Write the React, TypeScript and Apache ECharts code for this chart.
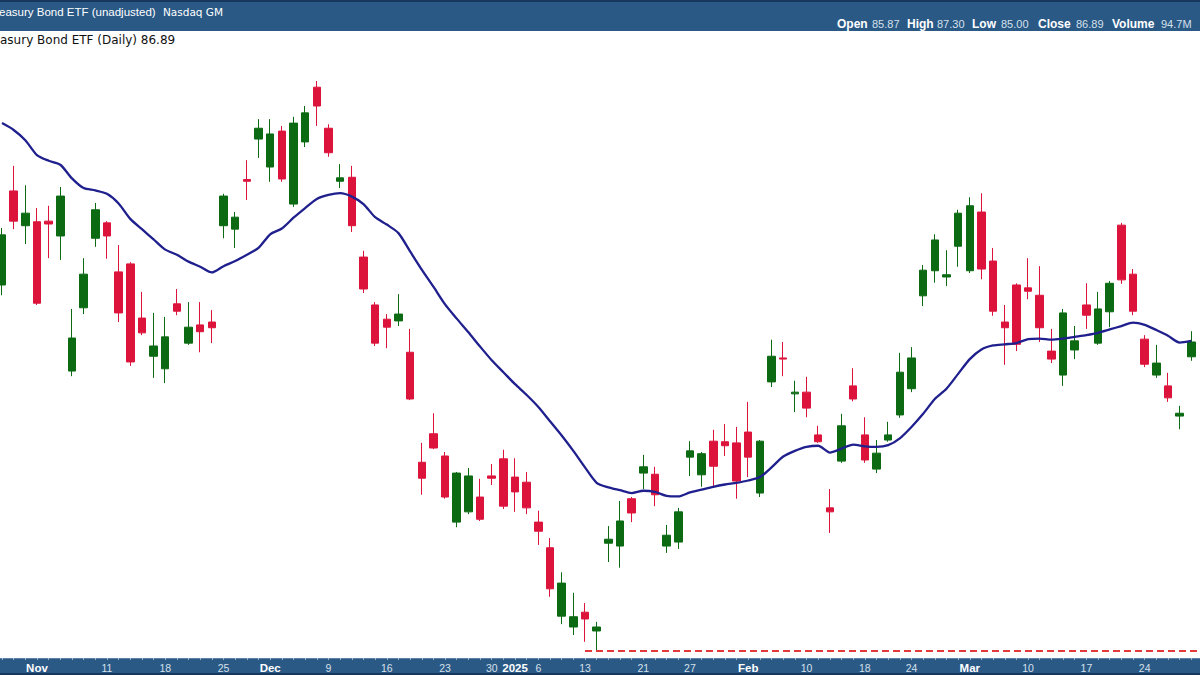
import React, { useEffect, useRef } from "react";
import * as echarts from "echarts";

// ---------- data ----------
const dates = [
  "2024-10-29", "2024-10-30", "2024-10-31",
  "2024-11-01", "2024-11-04", "2024-11-05", "2024-11-06", "2024-11-07", "2024-11-08",
  "2024-11-11", "2024-11-12", "2024-11-13", "2024-11-14", "2024-11-15",
  "2024-11-18", "2024-11-19", "2024-11-20", "2024-11-21", "2024-11-22",
  "2024-11-25", "2024-11-26", "2024-11-27", "2024-11-29",
  "2024-12-02", "2024-12-03", "2024-12-04", "2024-12-05", "2024-12-06",
  "2024-12-09", "2024-12-10", "2024-12-11", "2024-12-12", "2024-12-13",
  "2024-12-16", "2024-12-17", "2024-12-18", "2024-12-19", "2024-12-20",
  "2024-12-23", "2024-12-24", "2024-12-26", "2024-12-27",
  "2024-12-30", "2024-12-31",
  "2025-01-02", "2025-01-03",
  "2025-01-06", "2025-01-07", "2025-01-08", "2025-01-10",
  "2025-01-13", "2025-01-14", "2025-01-15", "2025-01-16", "2025-01-17",
  "2025-01-21", "2025-01-22", "2025-01-23", "2025-01-24",
  "2025-01-27", "2025-01-28", "2025-01-29", "2025-01-30", "2025-01-31",
  "2025-02-03", "2025-02-04", "2025-02-05", "2025-02-06", "2025-02-07",
  "2025-02-10", "2025-02-11", "2025-02-12", "2025-02-13", "2025-02-14",
  "2025-02-18", "2025-02-19", "2025-02-20", "2025-02-21",
  "2025-02-24", "2025-02-25", "2025-02-26", "2025-02-27", "2025-02-28",
  "2025-03-03", "2025-03-04", "2025-03-05", "2025-03-06", "2025-03-07",
  "2025-03-10", "2025-03-11", "2025-03-12", "2025-03-13", "2025-03-14",
  "2025-03-17", "2025-03-18", "2025-03-19", "2025-03-20", "2025-03-21",
  "2025-03-24", "2025-03-25", "2025-03-26", "2025-03-27", "2025-03-28",
  "2025-03-31",
];

const opens = [
  91.31, 92.96, 92.35, 92.42, 92.43, 92.17, 89.80, 90.91, 92.13, 92.40,
  91.54, 91.68, 90.73, 90.06, 89.84, 90.98, 90.29, 90.61, 90.66, 92.35,
  92.29, 93.16, 93.87, 93.38, 94.01, 92.73, 93.82, 94.78, 94.06, 93.13,
  93.20, 91.80, 90.96, 90.71, 90.68, 90.13, 88.20, 88.70, 88.31, 87.15,
  87.33, 87.59, 87.96, 88.26, 87.94, 87.85, 87.15, 86.70, 85.50, 85.31,
  85.57, 85.24, 86.78, 86.73, 87.56, 88.01, 87.99, 86.73, 86.80, 88.29,
  87.98, 88.57, 88.56, 88.54, 88.73, 87.66, 89.61, 90.03, 89.40, 89.43,
  88.68, 87.40, 88.22, 89.54, 88.68, 88.08, 88.59, 89.03, 89.49, 91.12,
  91.56, 91.45, 91.99, 91.56, 92.59, 91.73, 90.66, 91.31, 91.26, 91.13,
  90.15, 89.73, 90.17, 90.96, 90.29, 90.84, 92.36, 91.50, 90.36, 89.73,
  89.54, 89.01, 90.05,
];

const closes = [
  92.19, 92.43, 92.57, 90.99, 92.38, 92.87, 90.38, 91.50, 92.63, 92.17,
  90.82, 89.96, 90.47, 90.24, 90.40, 90.85, 90.57, 90.49, 90.56, 92.87,
  92.50, 93.13, 94.06, 93.96, 93.17, 94.15, 94.33, 94.45, 93.63, 93.19,
  92.35, 91.24, 90.29, 90.57, 90.80, 89.31, 87.92, 88.45, 87.59, 88.01,
  87.96, 87.20, 87.92, 87.43, 87.68, 87.40, 86.99, 85.98, 86.08, 85.49,
  85.45, 85.31, 86.85, 87.17, 87.31, 88.12, 87.63, 86.92, 87.33, 88.40,
  88.35, 88.13, 88.49, 87.87, 88.29, 88.57, 90.06, 90.01, 89.43, 89.15,
  88.56, 87.33, 88.84, 89.31, 88.24, 88.36, 88.68, 89.78, 90.03, 91.57,
  92.10, 91.49, 92.57, 92.70, 91.59, 90.85, 90.56, 90.27, 91.20, 90.56,
  90.01, 90.82, 90.33, 90.78, 90.89, 91.34, 91.40, 90.85, 89.92, 89.94,
  89.33, 89.06, 90.31,
];

const lows = [
  91.13, 92.29, 92.03, 90.96, 91.78, 91.75, 89.71, 90.80, 91.98, 91.77,
  90.66, 89.89, 90.43, 89.68, 89.59, 90.78, 90.26, 90.13, 90.29, 92.13,
  91.96, 92.80, 93.54, 93.12, 93.12, 92.68, 93.73, 94.10, 93.56, 93.01,
  92.24, 91.17, 90.24, 90.20, 90.59, 89.29, 87.63, 88.43, 87.56, 87.06,
  87.29, 87.17, 87.80, 87.38, 87.33, 87.29, 86.75, 85.84, 85.36, 85.17,
  85.05, 84.89, 86.45, 86.35, 87.15, 87.73, 87.43, 86.61, 86.68, 87.96,
  87.77, 87.78, 88.31, 87.56, 87.94, 87.59, 89.52, 89.71, 89.08, 88.99,
  88.54, 86.96, 88.19, 89.27, 88.19, 88.01, 88.56, 88.98, 89.43, 90.94,
  91.35, 91.29, 91.63, 91.52, 91.41, 90.77, 89.91, 90.15, 91.06, 90.31,
  89.94, 89.54, 90.01, 90.54, 90.26, 90.57, 91.33, 90.78, 89.87, 89.68,
  89.26, 88.78, 89.98,
];

const highs = [
  92.31, 93.40, 93.06, 92.66, 92.70, 93.03, 90.89, 91.78, 92.75, 92.43,
  92.01, 91.71, 91.19, 90.82, 90.75, 91.24, 91.01, 91.01, 90.87, 92.91,
  92.59, 93.50, 94.22, 94.22, 94.10, 94.26, 94.45, 94.89, 94.13, 93.43,
  93.40, 91.91, 91.01, 90.80, 91.15, 90.54, 88.54, 89.06, 88.38, 88.03,
  88.10, 87.91, 88.17, 88.42, 88.27, 88.03, 87.35, 86.87, 86.27, 85.91,
  85.73, 85.40, 87.08, 87.52, 87.59, 88.33, 88.12, 87.10, 87.40, 88.57,
  88.38, 88.77, 88.87, 88.82, 89.26, 88.59, 90.35, 90.31, 89.63, 89.70,
  88.84, 87.73, 89.05, 89.85, 88.99, 88.59, 88.91, 90.12, 90.22, 91.66,
  92.20, 91.92, 92.63, 92.85, 92.92, 91.96, 90.96, 91.34, 91.78, 91.64,
  90.54, 90.89, 90.59, 91.34, 91.19, 91.38, 92.40, 91.59, 90.43, 90.26,
  89.77, 89.19, 90.50,
];

const movingAverage = [
  94.15, 94.03, 93.85, 93.59, 93.49, 93.42, 93.18, 93.01, 92.97, 92.91,
  92.74, 92.47, 92.29, 92.11, 91.93, 91.84, 91.72, 91.63, 91.53, 91.64,
  91.73, 91.84, 91.96, 92.20, 92.30, 92.49, 92.66, 92.82, 92.89, 92.92,
  92.86, 92.73, 92.50, 92.37, 92.22, 91.90, 91.58, 91.28, 90.97, 90.72,
  90.48, 90.23, 89.99, 89.78, 89.57, 89.38, 89.17, 88.92, 88.67, 88.40,
  88.11, 87.84, 87.76, 87.71, 87.66, 87.70, 87.68, 87.61, 87.60, 87.67,
  87.72, 87.77, 87.81, 87.84, 87.88, 87.94, 88.11, 88.30, 88.40, 88.47,
  88.49, 88.37, 88.44, 88.51, 88.48, 88.47, 88.50, 88.62, 88.82, 89.05,
  89.31, 89.49, 89.75, 90.01, 90.18, 90.25, 90.27, 90.29, 90.36, 90.37,
  90.35, 90.37, 90.40, 90.43, 90.47, 90.53, 90.59, 90.65, 90.61, 90.52,
  90.42, 90.30, 90.33,
];

const supportLevel = 84.89;
const supportStartDate = "2025-01-13";

const tickLabels: Record<string, string> = {
  "2024-11-01": "Nov",
  "2024-11-11": "11",
  "2024-11-18": "18",
  "2024-11-25": "25",
  "2024-12-02": "Dec",
  "2024-12-09": "9",
  "2024-12-16": "16",
  "2024-12-23": "23",
  "2024-12-30": "30",
  "2025-01-02": "2025",
  "2025-01-06": "6",
  "2025-01-13": "13",
  "2025-01-21": "21",
  "2025-01-27": "27",
  "2025-02-03": "Feb",
  "2025-02-10": "10",
  "2025-02-18": "18",
  "2025-02-24": "24",
  "2025-03-03": "Mar",
  "2025-03-10": "10",
  "2025-03-17": "17",
  "2025-03-24": "24",
};
const boldTickLabels = ["Nov", "Dec", "2025", "Feb", "Mar"];

const headerTitle = "easury Bond ETF (unadjusted)";
const headerExchange = "Nasdaq GM";
const legendText = "asury Bond ETF (Daily) 86.89";
const quoteLabels = ["Open", "High", "Low", "Close", "Volume"];
const quoteValues = ["85.87", "87.30", "85.00", "86.89", "94.7M"];

// ---------- layout / styles ----------
const SHIFT = 4; // chart canvas starts 4px left of the page edge
const CHART_W = 1218;
const BAND = "#2a5986";
const UP = "#0b6a12";
const DOWN = "#dc143c";
const MA_COLOR = "#1f1f8e";
const quoteLabelX = [837, 907, 972, 1038, 1112];
const quoteValueX = [872, 937, 1001, 1076, 1161];

export default function App() {
  const ref = useRef<HTMLDivElement>(null);

  useEffect(() => {
    document.body.style.margin = "0";
    document.body.style.overflow = "hidden";
    if (!ref.current) return;
    const chart = echarts.init(ref.current, undefined, { renderer: "svg" });

    const candleData = opens.map((o, i) => [o, closes[i], lows[i], highs[i]]);

    const graphics: any[] = [
      { type: "rect", z: 1, shape: { x: 0, y: 0, width: CHART_W, height: 31 }, style: { fill: BAND } },
      { type: "rect", z: 2, shape: { x: 0, y: 0, width: CHART_W, height: 2 }, style: { fill: "#17385c" } },
      { type: "rect", z: 1, shape: { x: 0, y: 658, width: CHART_W, height: 17 }, style: { fill: BAND } },
      { type: "rect", z: 2, shape: { x: 0, y: 673, width: CHART_W, height: 2 }, style: { fill: "#17385c" } },
      {
        type: "text", z: 3, x: SHIFT - 1, y: 12,
        style: { text: headerTitle, fill: "#ffffff", font: "11.5px 'Liberation Sans', Arial, sans-serif", verticalAlign: "middle", textAlign: "left" },
      },
      {
        type: "text", z: 3, x: SHIFT + 163, y: 12,
        style: { text: headerExchange, fill: "#ffffff", font: "10.5px 'DejaVu Sans', sans-serif", verticalAlign: "middle", textAlign: "left" },
      },
      {
        type: "text", z: 3, x: SHIFT, y: 40,
        style: { text: legendText, fill: "#111111", font: "12px 'DejaVu Sans', sans-serif", verticalAlign: "middle", textAlign: "left" },
      },
    ];
    quoteLabels.forEach((lbl, i) => {
      graphics.push({
        type: "text", z: 3, x: SHIFT + quoteLabelX[i], y: 24,
        style: { text: lbl, fill: "#ffffff", font: "bold 12px 'Liberation Sans', Arial, sans-serif", verticalAlign: "middle", textAlign: "left" },
      });
      graphics.push({
        type: "text", z: 3, x: SHIFT + quoteValueX[i], y: 24,
        style: { text: quoteValues[i], fill: "#d6e0ea", font: "11px 'Liberation Sans', Arial, sans-serif", verticalAlign: "middle", textAlign: "left" },
      });
    });

    const option: any = {
      animation: false,
      backgroundColor: "#ffffff",
      grid: { left: 0.17, top: 31, width: 1212.64, height: 627, containLabel: false },
      xAxis: {
        type: "category",
        data: dates,
        boundaryGap: true,
        z: 20,
        axisLine: { show: true, lineStyle: { color: "#5b80a6", width: 1 } },
        axisTick: { show: true, interval: 0, alignWithLabel: true, length: 2, lineStyle: { color: "#9db5cc" } },
        axisLabel: {
          interval: (_idx: number, val: string) => val in tickLabels,
          margin: 4,
          formatter: (val: string) => {
            const lbl = tickLabels[val];
            if (!lbl) return "";
            return boldTickLabels.includes(lbl) ? `{m|${lbl}}` : `{d|${lbl}}`;
          },
          rich: {
            m: { color: "#ffffff", fontWeight: "bold", fontSize: 11.5, fontFamily: "'Liberation Sans', Arial, sans-serif" },
            d: { color: "#d6e0ea", fontSize: 10.5, fontFamily: "'Liberation Sans', Arial, sans-serif" },
          },
        },
        splitLine: { show: false },
      },
      yAxis: {
        type: "value",
        min: 84.766,
        max: 95.766,
        show: false,
        splitLine: { show: false },
      },
      graphic: graphics,
      series: [
        {
          type: "candlestick",
          data: candleData,
          barWidth: 8,
          itemStyle: {
            color: UP,
            color0: DOWN,
            borderColor: UP,
            borderColor0: DOWN,
            borderWidth: 1,
          },
          markLine: {
            silent: true,
            symbol: ["none", "none"],
            label: { show: false },
            lineStyle: { color: "#e23a3a", width: 2, type: [7, 4] },
            data: [
              [
                { coord: [supportStartDate, supportLevel] },
                { coord: [dates[dates.length - 1], supportLevel] },
              ],
            ],
          },
          z: 2,
        },
        {
          type: "line",
          data: movingAverage,
          symbol: "none",
          smooth: 0.25,
          lineStyle: { color: MA_COLOR, width: 2.3 },
          z: 3,
        },
      ],
    };

    chart.setOption(option);
    return () => chart.dispose();
  }, []);

  return (
    <div style={{ position: "relative", width: 1200, height: 675, overflow: "hidden" }}>
      <div ref={ref} style={{ position: "absolute", left: -SHIFT, top: 0, width: CHART_W, height: 675 }} />
    </div>
  );
}
